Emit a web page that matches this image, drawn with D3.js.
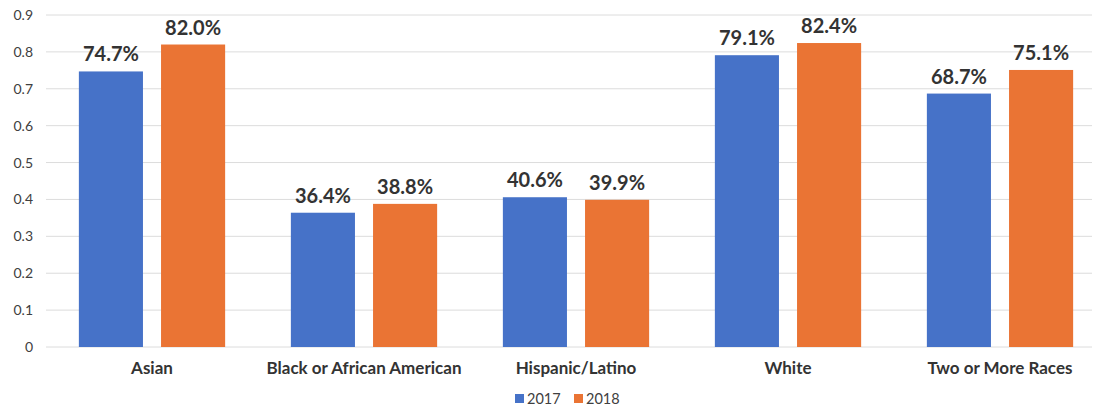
<!DOCTYPE html>
<html>
<head>
<meta charset="utf-8">
<script src="https://cdn.jsdelivr.net/npm/d3@7"></script>
<style>
  html, body { margin: 0; padding: 0; background: #fff; }
  svg { display: block; font-family: Lato, "Open Sans", sans-serif; }
</style>
</head>
<body>
<svg id="chart" width="1097" height="410"></svg>
<script>
// Share of students by race/ethnicity, 2017 vs 2018
const categories = ["Asian", "Black or African American", "Hispanic/Latino", "White", "Two or More Races"];
const series = ["2017", "2018"];
const values2017 = [0.747, 0.364, 0.406, 0.791, 0.687];
const values2018 = [0.820, 0.388, 0.399, 0.824, 0.751];
const yTicks = [0, 0.1, 0.2, 0.3, 0.4, 0.5, 0.6, 0.7, 0.8, 0.9];
const colors = ["#4672C8", "#EA7434"];

const svg = d3.select("#chart");

const y = d3.scaleLinear().domain([0, 0.9]).range([347, 15]);
const x = d3.scaleBand().domain(categories).range([46, 1106]).paddingInner(0).paddingOuter(0);
const xInner = d3.scaleBand().domain(series).range([0, x.bandwidth()]).paddingInner(0.22).paddingOuter(0.4);

// Horizontal gridlines
svg.append("g")
  .selectAll("line")
  .data(yTicks)
  .join("line")
  .attr("x1", 46).attr("x2", 1092)
  .attr("y1", d => y(d)).attr("y2", d => y(d))
  .attr("stroke", "#dcdcdc")
  .attr("stroke-width", 1);

// Y axis labels
const yAxis = d3.axisLeft(y).tickValues(yTicks).tickSize(0).tickPadding(0)
  .tickFormat(d => d === 0 ? "0" : d3.format(".1f")(d));
svg.append("g")
  .attr("transform", "translate(33,0)")
  .call(yAxis)
  .call(g => g.select(".domain").remove())
  .call(g => g.selectAll("text")
    .attr("font-family", "Lato, 'Open Sans', sans-serif")
    .attr("font-size", 14)
    .attr("fill", "#404040"));

const rows = categories.map((c, i) => ({ cat: c, vals: [values2017[i], values2018[i]] }));

const groups = svg.append("g")
  .selectAll("g")
  .data(rows)
  .join("g")
  .attr("transform", d => `translate(${x(d.cat)},0)`);

groups.selectAll("rect")
  .data(d => d.vals.map((v, j) => ({ key: series[j], v, j })))
  .join("rect")
  .attr("x", d => xInner(d.key))
  .attr("width", xInner.bandwidth())
  .attr("y", d => y(d.v))
  .attr("height", d => y(0) - y(d.v))
  .attr("fill", d => colors[d.j]);

groups.selectAll("text.val")
  .data(d => d.vals.map((v, j) => ({ key: series[j], v, j })))
  .join("text")
  .attr("class", "val")
  .attr("x", d => xInner(d.key) + xInner.bandwidth() / 2)
  .attr("y", d => y(d.v) - 10)
  .attr("text-anchor", "middle")
  .attr("font-size", 20)
  .attr("font-weight", "bold")
  .attr("fill", "#333")
  .text(d => d3.format(".1%")(d.v));

// Category labels
svg.append("g")
  .selectAll("text")
  .data(categories)
  .join("text")
  .attr("x", d => x(d) + x.bandwidth() / 2)
  .attr("y", 374)
  .attr("text-anchor", "middle")
  .attr("font-size", 17)
  .attr("font-weight", "bold")
  .attr("fill", "#333")
  .text(d => d);

// Legend
const legend = svg.append("g").attr("transform", "translate(515,404)");
const items = legend.selectAll("g")
  .data(series)
  .join("g")
  .attr("transform", (d, i) => `translate(${i * 59},0)`);
items.append("rect")
  .attr("x", 0).attr("y", -10)
  .attr("width", 9).attr("height", 9)
  .attr("fill", (d, i) => colors[i]);
items.append("text")
  .attr("x", 12).attr("y", 0)
  .attr("font-size", 14.5)
  .attr("fill", "#404040")
  .text(d => d);
</script>
</body>
</html>
